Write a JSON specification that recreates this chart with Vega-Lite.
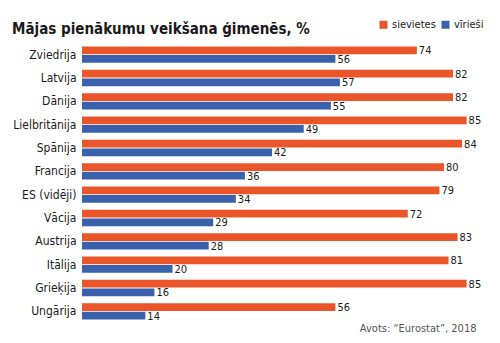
{
  "$schema": "https://vega.github.io/schema/vega-lite/v6.json",
  "width": 400,
  "height": 280,
  "autosize": {"type": "none"},
  "padding": {"left": 82, "top": 43, "right": 18, "bottom": 20},
  "background": "white",
  "config": {
    "view": {"stroke": null},
    "font": "Liberation Sans Narrow, DejaVu Sans Condensed, Roboto Condensed, sans-serif"
  },
  "title": {
    "text": "Mājas pienākumu veikšana ģimenēs, %",
    "anchor": "start",
    "frame": "group",
    "dx": -70,
    "dy": 28,
    "fontSize": 15,
    "fontWeight": "bold",
    "color": "#1a1a1a",
    "offset": 10
  },
  "data": {
    "values": [
      {"country": "Zviedrija", "gender": "sievietes", "value": 74},
      {"country": "Zviedrija", "gender": "vīrieši", "value": 56},
      {"country": "Latvija", "gender": "sievietes", "value": 82},
      {"country": "Latvija", "gender": "vīrieši", "value": 57},
      {"country": "Dānija", "gender": "sievietes", "value": 82},
      {"country": "Dānija", "gender": "vīrieši", "value": 55},
      {"country": "Lielbritānija", "gender": "sievietes", "value": 85},
      {"country": "Lielbritānija", "gender": "vīrieši", "value": 49},
      {"country": "Spānija", "gender": "sievietes", "value": 84},
      {"country": "Spānija", "gender": "vīrieši", "value": 42},
      {"country": "Francija", "gender": "sievietes", "value": 80},
      {"country": "Francija", "gender": "vīrieši", "value": 36},
      {"country": "ES (vidēji)", "gender": "sievietes", "value": 79},
      {"country": "ES (vidēji)", "gender": "vīrieši", "value": 34},
      {"country": "Vācija", "gender": "sievietes", "value": 72},
      {"country": "Vācija", "gender": "vīrieši", "value": 29},
      {"country": "Austrija", "gender": "sievietes", "value": 83},
      {"country": "Austrija", "gender": "vīrieši", "value": 28},
      {"country": "Itālija", "gender": "sievietes", "value": 81},
      {"country": "Itālija", "gender": "vīrieši", "value": 20},
      {"country": "Grieķija", "gender": "sievietes", "value": 85},
      {"country": "Grieķija", "gender": "vīrieši", "value": 16},
      {"country": "Ungārija", "gender": "sievietes", "value": 56},
      {"country": "Ungārija", "gender": "vīrieši", "value": 14}
    ]
  },
  "encoding": {
    "y": {
      "field": "country",
      "type": "nominal",
      "sort": ["Zviedrija", "Latvija", "Dānija", "Lielbritānija", "Spānija", "Francija", "ES (vidēji)", "Vācija", "Austrija", "Itālija", "Grieķija", "Ungārija"],
      "scale": {"paddingInner": 0.3, "paddingOuter": 0.15},
      "axis": {
        "title": null,
        "domain": false,
        "ticks": false,
        "labelPadding": 6,
        "labelFontSize": 12,
        "labelColor": "#1a1a1a"
      }
    },
    "yOffset": {
      "field": "gender",
      "type": "nominal",
      "sort": ["sievietes", "vīrieši"],
      "scale": {"paddingInner": 0.1}
    },
    "x": {
      "field": "value",
      "type": "quantitative",
      "scale": {"domain": [0, 88.4], "nice": false},
      "axis": {
        "title": "Avots: “Eurostat”, 2018",
        "labels": false,
        "ticks": false,
        "domain": false,
        "grid": false,
        "titleAnchor": "start",
        "titleAlign": "right",
        "titleX": 394,
        "titleY": 8,
        "titleBaseline": "alphabetic",
        "titleFontSize": 11,
        "titleFontWeight": "normal",
        "titleColor": "#555555"
      }
    }
  },
  "layer": [
    {
      "mark": {"type": "bar"},
      "encoding": {
        "color": {
          "field": "gender",
          "type": "nominal",
          "scale": {"domain": ["sievietes", "vīrieši"], "range": ["#EA5529", "#3A62AC"]},
          "legend": {
            "title": null,
            "orient": "none",
            "legendX": 296,
            "legendY": -24,
            "direction": "horizontal",
            "symbolType": "square",
            "symbolSize": 64,
            "symbolStrokeWidth": 0,
            "symbolOpacity": 1,
            "labelFontSize": 11,
            "labelColor": "#1a1a1a",
            "labelOffset": 3,
            "columnPadding": 4,
            "padding": 0
          }
        }
      }
    },
    {
      "mark": {"type": "text", "align": "left", "baseline": "middle", "dx": 2, "dy": 1, "fontSize": 11, "color": "#1a1a1a"},
      "encoding": {
        "text": {"field": "value", "type": "quantitative"}
      }
    }
  ]
}
